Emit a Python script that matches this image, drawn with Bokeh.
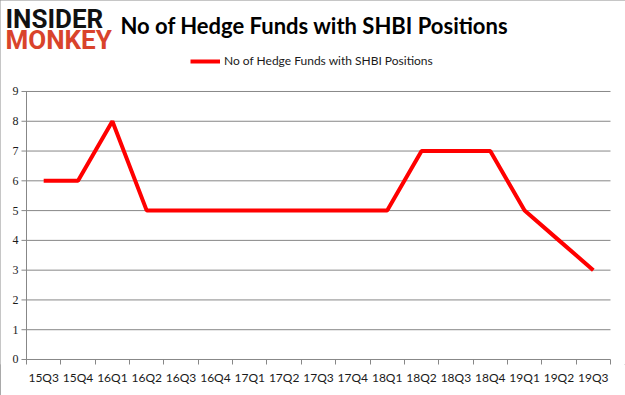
from bokeh.plotting import figure
from bokeh.models import FixedTicker, Label, Legend, LegendItem, Range1d, InlineStyleSheet
from bokeh.embed import file_html
from bokeh.resources import INLINE

quarters = ["15Q3", "15Q4", "16Q1", "16Q2", "16Q3", "16Q4", "17Q1", "17Q2", "17Q3",
            "17Q4", "18Q1", "18Q2", "18Q3", "18Q4", "19Q1", "19Q2", "19Q3"]
funds = [6, 6, 8, 5, 5, 5, 5, 5, 5, 5, 5, 7, 7, 7, 5, 4, 3]
y_ticks = [0, 1, 2, 3, 4, 5, 6, 7, 8, 9]
series_name = "No of Hedge Funds with SHBI Positions"

n = len(quarters)
xs = list(range(n))
GRAY = "#878787"
TXT = "#1a1a1a"

p = figure(width=625, height=395, output_backend="svg", toolbar_location=None,
           x_range=Range1d(-1.257, 16.937), y_range=Range1d(-0.168, 12.055),
           y_axis_location=None,
           min_border_left=0, min_border_right=0, min_border_top=0, min_border_bottom=31)
p.background_fill_color = "white"
p.border_fill_color = "white"
p.outline_line_color = None
p.stylesheets = [InlineStyleSheet(css=":host { outline: 1px solid #8c8c8c; outline-offset: -1px; }")]
p.xgrid.grid_line_color = None
p.ygrid.grid_line_color = None

# y axis (drawn from the tick list through the plot scales)
p.segment(x0=[-0.646] * len(y_ticks), x1=[n - 0.5] * len(y_ticks), y0=y_ticks, y1=y_ticks,
          line_color=GRAY, line_width=1)
p.segment(x0=[-0.5], x1=[-0.5], y0=[y_ticks[0]], y1=[y_ticks[-1]], line_color=GRAY, line_width=1)
p.text(x=[-0.733] * len(y_ticks), y=y_ticks, text=[str(t) for t in y_ticks],
       text_align="right", text_baseline="middle", text_font="Lato",
       text_font_size="12px", text_color=TXT)

# series
line = p.line(xs, funds, line_color="#ff0000", line_width=4)

# x axis
p.xaxis.bounds = (-0.5, n - 0.5)
p.xaxis.ticker = FixedTicker(ticks=xs, minor_ticks=[i - 0.5 for i in range(n + 1)])
p.xaxis.major_label_overrides = {i: q for i, q in enumerate(quarters)}
p.xaxis.major_tick_out = 0
p.xaxis.major_tick_in = 0
p.xaxis.minor_tick_out = 0
p.xaxis.minor_tick_in = 5
p.xaxis.minor_tick_line_color = GRAY
p.xaxis.axis_line_color = None
p.xaxis.major_label_text_font = "Lato"
p.xaxis.major_label_text_font_size = "12px"
p.xaxis.major_label_text_color = TXT
p.xaxis.major_label_standoff = 5

# title and logo
p.add_layout(Label(x=2.236, y=11.215, text=series_name, text_font="Lato",
                   text_font_style="bold", text_font_size="22px", text_color="#000000",
                   text_baseline="alphabetic", text_align="left"))
p.add_layout(Label(x=-1.111, y=11.417, text="INSIDER", text_font="Roboto",
                   text_font_style="bold", text_font_size="26px", text_color="#111111",
                   text_baseline="alphabetic", text_align="left"))
p.add_layout(Label(x=-1.111, y=10.712, text="MONKEY", text_font="Roboto",
                   text_font_style="bold", text_font_size="26px", text_color="#d9432b",
                   text_baseline="alphabetic", text_align="left"))

legend = Legend(items=[LegendItem(label=series_name, renderers=[line])],
                location=(190, 296), orientation="horizontal",
                glyph_width=30, glyph_height=12, label_standoff=4, padding=0, margin=0,
                border_line_color=None, background_fill_alpha=0,
                label_text_font="Lato", label_text_font_size="12px", label_text_color=TXT)
p.add_layout(legend, "center")

open("out.html", "w").write(file_html(p, INLINE))
